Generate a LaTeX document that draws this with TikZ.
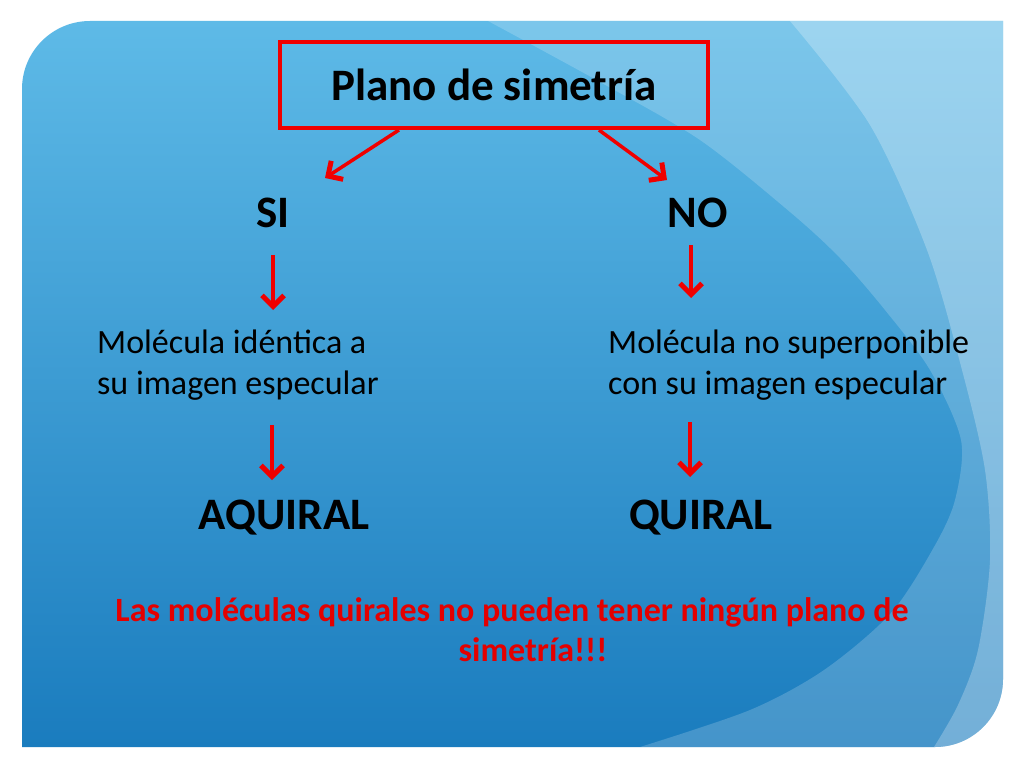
\documentclass[tikz,border=0pt]{standalone}
\usepackage{fontspec}
\setmainfont{Carlito}
\usetikzlibrary{arrows.meta,calc}
\definecolor{topblue}{RGB}{94,186,231}
\definecolor{botblue}{RGB}{26,124,190}
\definecolor{pptred}{RGB}{240,0,0}
\definecolor{txtred}{RGB}{228,0,0}
\tikzset{
  arr/.style={draw=pptred, line width=3.5pt, -{Straight Barb[length=11pt,width=22pt,line width=5pt]}},
  titlebox/.style={draw=pptred, line width=4pt, minimum width=428pt, minimum height=86pt,
    inner sep=0pt, font=\fontsize{45}{54}\selectfont\bfseries},
  big/.style={inner sep=0pt, font=\fontsize{45}{54}\selectfont\bfseries},
  desc/.style={inner sep=0pt, align=left, font=\fontsize{34}{41}\selectfont},
  note/.style={inner sep=0pt, text=txtred, font=\fontsize{34}{40}\selectfont\bfseries}
}
\begin{document}
\begin{tikzpicture}[x=1pt,y=-1pt]
\useasboundingbox (0,0) rectangle (1024,768);
\fill[white] (0,0) rectangle (1024,768);
% slide background
\shade[top color=topblue, bottom color=botblue]
  (22,747) -- (22,89) arc[start angle=180,end angle=270,radius=68] -- (1003,21)
  -- (1003,679) arc[start angle=0,end angle=90,radius=68] -- cycle;
\begin{scope}
  \clip (22,747) -- (22,89) arc[start angle=180,end angle=270,radius=68] -- (1003,21)
  -- (1003,679) arc[start angle=0,end angle=90,radius=68] -- cycle;
  \fill[white, opacity=0.19] plot[smooth] coordinates {(488,21) (600,82) (700,140) (790,212)
    (840,258) (885,310) (930,370) (961,440) (955,500) (934,547) (891,613) (824,670)
    (750,710) (640,747)} -- (640,760) -- (1012,760) -- (1012,10) -- (480,10) -- cycle;
  \fill[white, opacity=0.25] plot[smooth] coordinates {(790,21) (870,125) (927,250)
    (962,370) (985,470) (990,560) (978,650) (958,705) (934,747)}
    -- (934,760) -- (1012,760) -- (1012,10) -- (790,10) -- cycle;
\end{scope}
% nodes
\node[titlebox] (title) at (494,85) {Plano de simetría};
\node[big, anchor=base] (si) at (273,227) {SI};
\node[big, anchor=base] (no) at (698,227) {NO};
\node[desc, anchor=base west] (d1) at (97,394) {Molécula idéntica a\\su imagen especular};
\node[desc, anchor=base west] (d2) at (608,394) {Molécula no superponible\\con su imagen especular};
\node[big, anchor=base] (aq) at (284,529) {AQUIRAL};
\node[big, anchor=base] (q) at (701,529) {QUIRAL};
\node[note, anchor=base] (n1) at (512,621) {Las moléculas quirales no pueden tener ningún plano de};
\node[note, anchor=base] (n2) at (533,661) {simetría!!!};
% arrow ends
\coordinate (siTip) at (325,178);
\coordinate (noTip) at (667,180);
\coordinate (a1s) at (273,255); \coordinate (a1e) at (273,310);
\coordinate (a2s) at (691,245); \coordinate (a2e) at (691,298);
\coordinate (a3s) at (272,425); \coordinate (a3e) at (272,480);
\coordinate (a4s) at (690,422); \coordinate (a4e) at (690,477);
% connectors
\draw[arr] ($(title.south west)!0.28!(title.south east)$) -- (siTip);
\draw[arr] ($(title.south west)!0.743!(title.south east)$) -- (noTip);
\draw[arr] (a1s) -- (a1e);
\draw[arr] (a2s) -- (a2e);
\draw[arr] (a3s) -- (a3e);
\draw[arr] (a4s) -- (a4e);
\end{tikzpicture}
\end{document}
